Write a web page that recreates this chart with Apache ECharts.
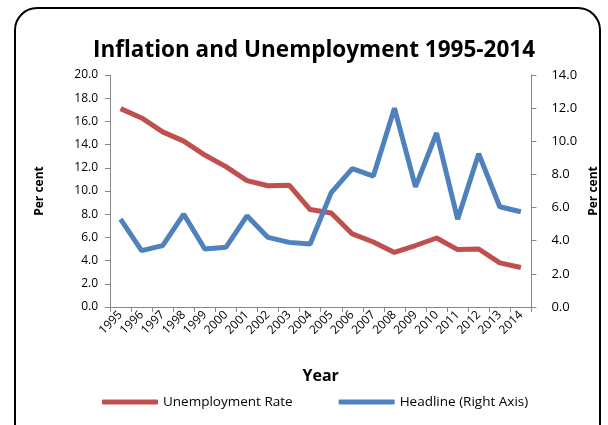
<!DOCTYPE html>
<html><head><meta charset="utf-8">
<script src="https://cdn.jsdelivr.net/npm/echarts@6/dist/echarts.min.js"></script>
<style>html,body{margin:0;padding:0;background:#fff}#c{width:608px;height:425px}</style>
</head><body><div id="c"></div>
<script>
var years = ['1995','1996','1997','1998','1999','2000','2001','2002','2003','2004','2005','2006','2007','2008','2009','2010','2011','2012','2013','2014'];
var unemployment = [17.1,16.3,15.1,14.3,13.1,12.1,10.9,10.45,10.5,8.4,8.1,6.3,5.6,4.7,5.3,5.95,4.95,5.0,3.8,3.4];
var headline = [5.3,3.4,3.7,5.6,3.5,3.6,5.5,4.2,3.9,3.8,6.9,8.35,7.9,12.0,7.25,10.5,5.3,9.25,6.05,5.75];
var leftTicks = {min:0, max:20, interval:2};
var rightTicks = {min:0, max:14, interval:2};
var FONT = '"Open Sans", "Liberation Sans", sans-serif';
var chart = echarts.init(document.getElementById('c'));
chart.setOption({
  animation:false,
  textStyle:{fontFamily:FONT},
  graphic:[{type:'rect', shape:{x:15,y:8,width:585,height:440,r:22}, style:{fill:'none',stroke:'#000',lineWidth:2}, silent:true}],
  title:{text:'Inflation and Unemployment 1995-2014', left:88, top:34,
    textStyle:{fontFamily:FONT, fontSize:22.5, fontWeight:'bold', color:'#000'}},
  grid:{left:110, right:73, top:75, bottom:118},
  legend:{bottom:11, left:97, itemGap:46, itemWidth:56, itemHeight:5, icon:'roundRect',
    textStyle:{fontSize:13.5, color:'#000', fontFamily:FONT},
    data:['Unemployment Rate','Headline (Right Axis)']},
  xAxis:{type:'category', data:years, boundaryGap:true,
    name:'Year', nameLocation:'middle', nameGap:61,
    nameTextStyle:{fontSize:16, fontWeight:'bold', color:'#000'},
    axisLine:{lineStyle:{color:'#868686', width:1}},
    axisTick:{show:true, alignWithLabel:false, length:5, lineStyle:{color:'#868686'}},
    axisLabel:{rotate:45, fontSize:12, color:'#000', margin:6, interval:0}},
  yAxis:[{type:'value', min:leftTicks.min, max:leftTicks.max, interval:leftTicks.interval,
      name:'Per cent', nameLocation:'middle', nameGap:64, nameRotate:90,
      nameTextStyle:{fontSize:12, fontWeight:'bold', color:'#000'},
      axisLine:{show:true, lineStyle:{color:'#868686'}},
      axisTick:{show:true, length:5, lineStyle:{color:'#868686'}},
      splitLine:{show:false},
      axisLabel:{fontSize:12, color:'#000', margin:12, formatter:function(v){return v.toFixed(1);}}},
    {type:'value', min:rightTicks.min, max:rightTicks.max, interval:rightTicks.interval, position:'right',
      name:'Per cent', nameLocation:'middle', nameGap:56, nameRotate:90,
      nameTextStyle:{fontSize:12, fontWeight:'bold', color:'#000'},
      axisLine:{show:true, lineStyle:{color:'#868686'}},
      axisTick:{show:true, length:5, lineStyle:{color:'#868686'}},
      splitLine:{show:false},
      axisLabel:{fontSize:13, color:'#000', margin:20, formatter:function(v){return v.toFixed(1);}}}],
  series:[
    {name:'Unemployment Rate', type:'line', yAxisIndex:0, data:unemployment, symbol:'none',
      lineStyle:{color:'#C0504D', width:5}, itemStyle:{color:'#C0504D'}},
    {name:'Headline (Right Axis)', type:'line', yAxisIndex:1, data:headline, symbol:'none',
      lineStyle:{color:'#4F81BD', width:5}, itemStyle:{color:'#4F81BD'}}
  ]
});
</script></body></html>
